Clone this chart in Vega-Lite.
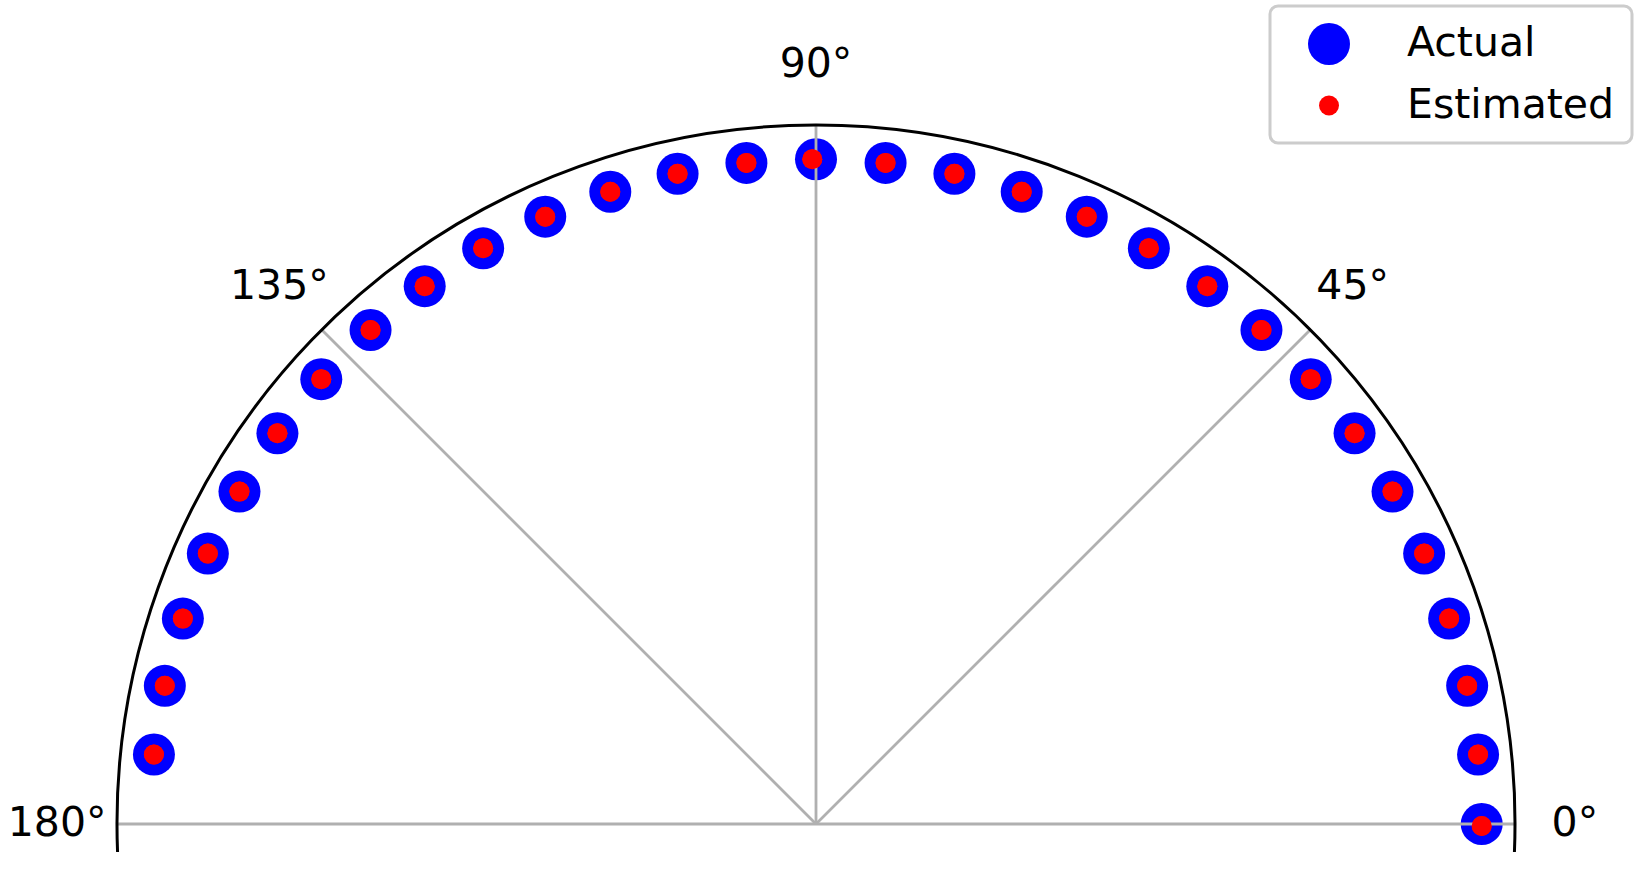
{
  "$schema": "https://vega.github.io/schema/vega-lite/v6.json",
  "autosize": {"type": "none"},
  "padding": {"left": 117, "top": 126, "right": 129, "bottom": 51},
  "width": 1398,
  "height": 698,
  "background": "white",
  "config": {
    "view": {"stroke": null},
    "font": "DejaVu Sans",
    "legend": {
      "orient": "none",
      "legendX": 1153,
      "legendY": -120,
      "padding": 17,
      "symbolOffset": 21,
      "labelOffset": 57,
      "rowPadding": 19,
      "symbolStrokeWidth": 0,
      "symbolType": "circle",
      "labelFont": "DejaVu Sans",
      "labelFontSize": 41,
      "labelColor": "#000000",
      "labelLimit": 500,
      "strokeColor": "#cccccc",
      "strokeWidth": 3,
      "cornerRadius": 8,
      "fillColor": "#ffffff",
      "title": null
    }
  },
  "datasets": {
    "points": [
      {"series": "Actual", "angle": 0, "r": 1}, {"series": "Actual", "angle": 6, "r": 1},
      {"series": "Actual", "angle": 12, "r": 1}, {"series": "Actual", "angle": 18, "r": 1},
      {"series": "Actual", "angle": 24, "r": 1}, {"series": "Actual", "angle": 30, "r": 1},
      {"series": "Actual", "angle": 36, "r": 1}, {"series": "Actual", "angle": 42, "r": 1},
      {"series": "Actual", "angle": 48, "r": 1}, {"series": "Actual", "angle": 54, "r": 1},
      {"series": "Actual", "angle": 60, "r": 1}, {"series": "Actual", "angle": 66, "r": 1},
      {"series": "Actual", "angle": 72, "r": 1}, {"series": "Actual", "angle": 78, "r": 1},
      {"series": "Actual", "angle": 84, "r": 1}, {"series": "Actual", "angle": 90, "r": 1},
      {"series": "Actual", "angle": 96, "r": 1}, {"series": "Actual", "angle": 102, "r": 1},
      {"series": "Actual", "angle": 108, "r": 1}, {"series": "Actual", "angle": 114, "r": 1},
      {"series": "Actual", "angle": 120, "r": 1}, {"series": "Actual", "angle": 126, "r": 1},
      {"series": "Actual", "angle": 132, "r": 1}, {"series": "Actual", "angle": 138, "r": 1},
      {"series": "Actual", "angle": 144, "r": 1}, {"series": "Actual", "angle": 150, "r": 1},
      {"series": "Actual", "angle": 156, "r": 1}, {"series": "Actual", "angle": 162, "r": 1},
      {"series": "Actual", "angle": 168, "r": 1}, {"series": "Actual", "angle": 174, "r": 1},
      {"series": "Estimated", "angle": -0.17, "r": 1}, {"series": "Estimated", "angle": 6, "r": 1},
      {"series": "Estimated", "angle": 12, "r": 1}, {"series": "Estimated", "angle": 18, "r": 1},
      {"series": "Estimated", "angle": 24, "r": 1}, {"series": "Estimated", "angle": 30, "r": 1},
      {"series": "Estimated", "angle": 36, "r": 1}, {"series": "Estimated", "angle": 42, "r": 1},
      {"series": "Estimated", "angle": 48, "r": 1}, {"series": "Estimated", "angle": 54, "r": 1},
      {"series": "Estimated", "angle": 60, "r": 1}, {"series": "Estimated", "angle": 66, "r": 1},
      {"series": "Estimated", "angle": 72, "r": 1}, {"series": "Estimated", "angle": 78, "r": 1},
      {"series": "Estimated", "angle": 84, "r": 1}, {"series": "Estimated", "angle": 90.32, "r": 1},
      {"series": "Estimated", "angle": 96, "r": 1}, {"series": "Estimated", "angle": 102, "r": 1},
      {"series": "Estimated", "angle": 108, "r": 1}, {"series": "Estimated", "angle": 114, "r": 1},
      {"series": "Estimated", "angle": 120, "r": 1}, {"series": "Estimated", "angle": 126, "r": 1},
      {"series": "Estimated", "angle": 132, "r": 1}, {"series": "Estimated", "angle": 138, "r": 1},
      {"series": "Estimated", "angle": 144, "r": 1}, {"series": "Estimated", "angle": 150, "r": 1},
      {"series": "Estimated", "angle": 156, "r": 1}, {"series": "Estimated", "angle": 162, "r": 1},
      {"series": "Estimated", "angle": 168, "r": 1}, {"series": "Estimated", "angle": 174, "r": 1}
    ],
    "grid": [
      {"angle": 0, "label": "0°"},
      {"angle": 45, "label": "45°"},
      {"angle": 90, "label": "90°"},
      {"angle": 135, "label": "135°"},
      {"angle": 180, "label": "180°"}
    ],
    "frame": [
      {"start": -2.3, "end": 182.3}
    ]
  },
  "layer": [
    {
      "data": {"name": "points"},
      "transform": [
        {"calculate": "datum.r * cos(datum.angle * PI / 180)", "as": "px"},
        {"calculate": "datum.r * sin(datum.angle * PI / 180)", "as": "py"}
      ],
      "mark": {"type": "point", "filled": true, "opacity": 1, "strokeWidth": 0, "shape": "circle"},
      "encoding": {
        "x": {"field": "px", "type": "quantitative", "scale": {"domain": [-1.05, 1.05], "nice": false, "zero": false}, "axis": null},
        "y": {"field": "py", "type": "quantitative", "scale": {"domain": [0, 1.05], "nice": false, "zero": false}, "axis": null},
        "color": {"field": "series", "type": "nominal", "scale": {"domain": ["Actual", "Estimated"], "range": ["#0000ff", "#ff0000"]}},
        "size": {"field": "series", "type": "nominal", "scale": {"type": "ordinal", "domain": ["Actual", "Estimated"], "range": [1764, 400]}}
      }
    },
    {
      "data": {"name": "grid"},
      "mark": {"type": "arc", "filled": false, "color": "#b0b0b0", "strokeWidth": 2.8},
      "encoding": {
        "x": {"datum": 0, "type": "quantitative"},
        "y": {"datum": 0, "type": "quantitative"},
        "theta": {"field": "angle", "type": "quantitative", "stack": null, "scale": {"type": "linear", "domain": [0, 180], "range": [1.5707963, -1.5707963], "nice": false, "zero": false}},
        "theta2": {"field": "angle"},
        "radius": {"datum": 1.05, "type": "quantitative", "scale": {"type": "linear", "domain": [0, 1.05], "range": [0, 699], "nice": false, "zero": true}},
        "radius2": {"datum": 0}
      }
    },
    {
      "data": {"name": "frame"},
      "mark": {"type": "arc", "filled": false, "color": "#000000", "strokeWidth": 3},
      "encoding": {
        "x": {"datum": 0, "type": "quantitative"},
        "y": {"datum": 0, "type": "quantitative"},
        "theta": {"field": "start", "type": "quantitative", "stack": null},
        "theta2": {"field": "end"},
        "radius": {"datum": 1.05, "type": "quantitative"},
        "radius2": {"datum": 1.05}
      }
    },
    {
      "data": {"name": "points"},
      "transform": [
        {"filter": "datum.series === 'Estimated'"},
        {"calculate": "datum.r * cos(datum.angle * PI / 180)", "as": "px"},
        {"calculate": "datum.r * sin(datum.angle * PI / 180)", "as": "py"}
      ],
      "mark": {"type": "point", "filled": true, "opacity": 1, "strokeWidth": 0, "shape": "circle", "color": "#ff0000", "size": 400},
      "encoding": {
        "x": {"field": "px", "type": "quantitative"},
        "y": {"field": "py", "type": "quantitative"}
      }
    },
    {
      "data": {"name": "grid"},
      "mark": {"type": "text", "font": "DejaVu Sans", "fontSize": 41, "color": "#000000", "align": "center", "baseline": "middle"},
      "encoding": {
        "x": {"datum": 0, "type": "quantitative"},
        "y": {"datum": 0, "type": "quantitative"},
        "theta": {"field": "angle", "type": "quantitative", "stack": null},
        "radius": {"datum": 1.14, "type": "quantitative"},
        "text": {"field": "label", "type": "nominal"}
      }
    }
  ]
}
